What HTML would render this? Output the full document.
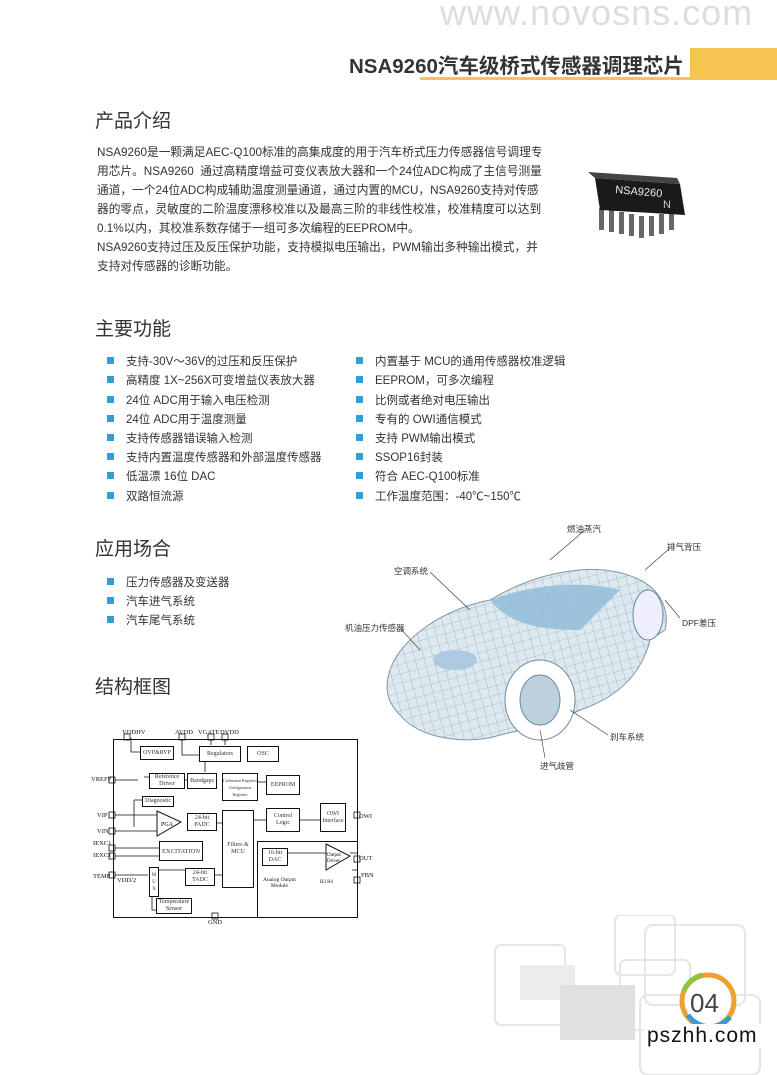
<!DOCTYPE html>
<html><head><meta charset="utf-8"><style>
body{margin:0;width:777px;height:1075px;background:#fff;position:relative;overflow:hidden;font-family:"Liberation Sans","Noto Sans CJK SC",sans-serif;color:#333}
.a{position:absolute;white-space:nowrap}
h2{position:absolute;margin:0;font-weight:normal;font-size:19px;color:#333;left:95px}
.p{font-size:11.7px;line-height:19px;left:97px;color:#333}
.li{position:absolute;font-size:11.5px;color:#333}
.li:before{content:"";position:absolute;left:-19px;top:4px;width:7px;height:7px;background:#2f9fd8}
.d{font-family:"Liberation Serif",serif;font-size:6.5px;position:absolute;white-space:nowrap;color:#111}
.b{position:absolute;border:1px solid #111;background:#fff;font-family:"Liberation Serif",serif;font-size:6px;text-align:center;display:flex;align-items:center;justify-content:center;line-height:7px}
.lbl{font-size:8.5px;color:#333;position:absolute}
</style></head><body>
<div class="a" style="left:440px;top:-8px;font-size:36px;color:#ddd;letter-spacing:1px">www.novosns.com</div>
<div class="a" style="left:349px;top:49px;font-size:20.5px;font-weight:bold;color:#333">NSA9260汽车级桥式传感器调理芯片</div>
<div class="a" style="left:690px;top:48px;width:87px;height:30px;background:#f5c451"></div>
<div class="a" style="left:420px;top:77px;width:357px;height:3px;background:#f5c451"></div>

<h2 style="top:106px">产品介绍</h2>
<div class="a p" style="top:143px">NSA9260是一颗满足AEC-Q100标准的高集成度的用于汽车桥式压力传感器信号调理专<br>用芯片。NSA9260&nbsp;&nbsp;通过高精度增益可变仪表放大器和一个24位ADC构成了主信号测量<br>通道，一个24位ADC构成辅助温度测量通道，通过内置的MCU，NSA9260支持对传感<br>器的零点，灵敏度的二阶温度漂移校准以及最高三阶的非线性校准，校准精度可以达到<br>0.1%以内，其校准系数存储于一组可多次编程的EEPROM中。<br>NSA9260支持过压及反压保护功能，支持模拟电压输出，PWM输出多种输出模式，并<br>支持对传感器的诊断功能。</div>
<svg class="a" style="left:585px;top:160px" width="110" height="80">
<g fill="#666"><rect x="14" y="48" width="5" height="22"/><rect x="24" y="50" width="5" height="22"/><rect x="34" y="52" width="5" height="22"/><rect x="44" y="54" width="5" height="22"/><rect x="54" y="56" width="5" height="22"/><rect x="64" y="56" width="5" height="20"/><rect x="74" y="54" width="5" height="20"/><rect x="84" y="50" width="5" height="20"/></g>
<polygon points="10,18 95,24 100,55 15,50" fill="#1a1a1a"/><polygon points="3,12 92,18 95,24 10,18" fill="#444"/>
<text x="30" y="33" fill="#eee" font-size="11" font-family="Liberation Sans" transform="rotate(5 30 33)">NSA9260</text>
<text x="78" y="48" fill="#ccc" font-size="11" font-family="Liberation Sans">N</text></svg>

<h2 style="top:314px">主要功能</h2>
<div class="li" style="left:126px;top:353px">支持-30V～36V的过压和反压保护</div>
<div class="li" style="left:126px;top:372px">高精度 1X~256X可变增益仪表放大器</div>
<div class="li" style="left:126px;top:392px">24位 ADC用于输入电压检测</div>
<div class="li" style="left:126px;top:411px">24位 ADC用于温度测量</div>
<div class="li" style="left:126px;top:430px">支持传感器错误输入检测</div>
<div class="li" style="left:126px;top:449px">支持内置温度传感器和外部温度传感器</div>
<div class="li" style="left:126px;top:468px">低温漂 16位 DAC</div>
<div class="li" style="left:126px;top:488px">双路恒流源</div>
<div class="li" style="left:375px;top:353px">内置基于 MCU的通用传感器校准逻辑</div>
<div class="li" style="left:375px;top:372px">EEPROM，可多次编程</div>
<div class="li" style="left:375px;top:392px">比例或者绝对电压输出</div>
<div class="li" style="left:375px;top:411px">专有的 OWI通信模式</div>
<div class="li" style="left:375px;top:430px">支持 PWM输出模式</div>
<div class="li" style="left:375px;top:449px">SSOP16封装</div>
<div class="li" style="left:375px;top:468px">符合 AEC-Q100标准</div>
<div class="li" style="left:375px;top:488px">工作温度范围：-40℃~150℃</div>

<h2 style="top:534px">应用场合</h2>
<div class="li" style="left:126px;top:574px">压力传感器及变送器</div>
<div class="li" style="left:126px;top:593px">汽车进气系统</div>
<div class="li" style="left:126px;top:612px">汽车尾气系统</div>

<svg class="a" style="left:380px;top:530px" width="300" height="240">
<defs><pattern id="g" width="9" height="9" patternUnits="userSpaceOnUse" patternTransform="rotate(-15)"><path d="M0,0 H9 M0,0 V9" stroke="#7f9db3" stroke-width=".6" fill="none"/></pattern></defs>
<path d="M10,140 C20,110 60,80 110,70 C160,40 220,30 260,50 C280,60 290,80 285,100 L270,110 C260,150 230,170 200,180 C170,195 140,200 120,205 C90,215 40,210 20,185 C5,170 5,155 10,140Z" fill="#dde8ef" stroke="#7b98ad"/>
<path d="M10,140 C20,110 60,80 110,70 C160,40 220,30 260,50 C280,60 290,80 285,100 L270,110 C260,150 230,170 200,180 C170,195 140,200 120,205 C90,215 40,210 20,185 C5,170 5,155 10,140Z" fill="url(#g)"/>
<path d="M110,70 C150,55 200,50 240,60 L200,100 C160,100 130,95 110,70Z" fill="#8fbad8" opacity=".8"/>
<ellipse cx="160" cy="170" rx="35" ry="40" fill="#fff" stroke="#6b889d"/><ellipse cx="160" cy="170" rx="20" ry="25" fill="#bcd0de" stroke="#6b889d"/>
<ellipse cx="268" cy="85" rx="15" ry="25" fill="#eef" stroke="#6b889d"/>
<ellipse cx="75" cy="130" rx="22" ry="10" fill="#a9c7e0" opacity=".9"/>
<g stroke="#333" stroke-width=".6"><line x1="205" y1="0" x2="170" y2="30"/><line x1="290" y1="18" x2="265" y2="40"/><line x1="50" y1="42" x2="90" y2="80"/><line x1="300" y1="88" x2="285" y2="70"/><line x1="20" y1="98" x2="40" y2="120"/><line x1="228" y1="205" x2="190" y2="180"/><line x1="165" y1="228" x2="160" y2="200"/></g>
</svg>
<div class="lbl" style="left:567px;top:523px">燃油蒸汽</div>
<div class="lbl" style="left:667px;top:541px">排气背压</div>
<div class="lbl" style="left:394px;top:565px">空调系统</div>
<div class="lbl" style="left:682px;top:617px">DPF差压</div>
<div class="lbl" style="left:345px;top:622px">机油压力传感器</div>
<div class="lbl" style="left:610px;top:731px">刹车系统</div>
<div class="lbl" style="left:540px;top:760px">进气歧管</div>

<h2 style="top:672px">结构框图</h2>
<svg class="a" style="left:90px;top:720px" width="290" height="210">
<g stroke="#111" stroke-width=".8" fill="none">
<path d="M41,18 V32 H51 M92,18 V35 H109 M121,18 V25 M135,18 V25 M115,52 V40"/>
<path d="M23,60 H48 M54,57 H60 M93,60 H97"/>
<path d="M23,95 H68 M23,111 H68 M44,80 V107 M44,80 H52"/>
<path d="M101,103 H97 M125,103 H132 M157,100 H176 M210,100 H230"/>
<path d="M69,128 H25 M69,136 H25"/>
<path d="M23,155 H58 M68,150 H95 M123,155 H132 M190,135 H172 M186,133 H236 M260,133 H268 M262,150 H268 M62,162 V190 H66 M161,62 H176"/>
</g>
<g fill="#fff" stroke="#111" stroke-width=".8"><rect x="34" y="14" width="6" height="6"/><rect x="89" y="14" width="6" height="6"/><rect x="118" y="14" width="6" height="6"/><rect x="132" y="14" width="6" height="6"/><rect x="19" y="57" width="6" height="6"/><rect x="19" y="92" width="6" height="6"/><rect x="19" y="108" width="6" height="6"/><rect x="19" y="125" width="6" height="6"/><rect x="19" y="133" width="6" height="6"/><rect x="19" y="152" width="6" height="6"/><rect x="264" y="92" width="6" height="6"/><rect x="264" y="136" width="6" height="6"/><rect x="264" y="157" width="6" height="6"/><rect x="122" y="193" width="6" height="6"/></g>
</svg>
<div class="a" style="left:113px;top:739px;width:243px;height:177px;border:1px solid #111"></div>
<div class="a" style="left:257px;top:841px;width:99px;height:75px;border-left:1px solid #111;border-top:1px solid #111"></div>
<div class="d" style="left:122px;top:729px">VDDHV</div><div class="d" style="left:175px;top:729px">AVDD</div><div class="d" style="left:198px;top:729px">VGATE</div><div class="d" style="left:220px;top:729px">DVDD</div>
<div class="b" style="left:140px;top:746px;width:32px;height:12px">OVP&amp;RVP</div>
<div class="b" style="left:199px;top:746px;width:40px;height:14px">Regulators</div>
<div class="b" style="left:247px;top:746px;width:30px;height:14px">OSC</div>
<div class="d" style="left:91px;top:776px">VREFP</div>
<div class="b" style="left:149px;top:773px;width:34px;height:14px">Reference Driver</div>
<div class="b" style="left:187px;top:773px;width:28px;height:14px">Bandgaps</div>
<div class="b" style="left:222px;top:773px;width:34px;height:26px;font-size:4px">Calibration Registers<br>Configuration Registers</div>
<div class="b" style="left:266px;top:775px;width:32px;height:18px">EEPROM</div>
<div class="b" style="left:142px;top:796px;width:30px;height:9px">Diagnostic</div>
<div class="d" style="left:97px;top:812px">VIP</div><div class="d" style="left:97px;top:828px">VIN</div>
<div class="d" style="left:93px;top:840px">IEXC1</div><div class="d" style="left:93px;top:852px">IEXC1</div><div class="d" style="left:93px;top:873px">TEMP</div>
<svg class="a" style="left:155px;top:810px" width="40" height="30"><polygon points="2,1 26,12 2,26" fill="#fff" stroke="#111"/><text x="6" y="16" font-size="6" font-family="Liberation Serif">PGA</text></svg>
<div class="b" style="left:187px;top:813px;width:28px;height:16px">24-bit PADC</div>
<div class="b" style="left:222px;top:810px;width:30px;height:76px">Filters &amp;<br>MCU</div>
<div class="b" style="left:266px;top:808px;width:32px;height:22px">Control Logic</div>
<div class="b" style="left:320px;top:803px;width:24px;height:27px">OWI Interface</div>
<div class="d" style="left:359px;top:813px">OWI</div>
<div class="b" style="left:159px;top:841px;width:42px;height:18px;font-size:6.5px">EXCITATION</div>
<div class="b" style="left:262px;top:848px;width:24px;height:16px">16-bit DAC</div>
<svg class="a" style="left:324px;top:842px" width="30" height="30"><polygon points="2,2 26,14 2,28" fill="#fff" stroke="#111"/><text x="3" y="14" font-size="5" font-family="Liberation Serif">Output</text><text x="3" y="20" font-size="5" font-family="Liberation Serif">Driver</text></svg>
<div class="d" style="left:359px;top:855px">OUT</div><div class="d" style="left:361px;top:872px">FBN</div>
<div class="d" style="left:117px;top:877px">VDD/2</div>
<div class="b" style="left:149px;top:867px;width:8px;height:28px;font-size:5px">M U X</div>
<div class="b" style="left:185px;top:868px;width:28px;height:16px">24-bit TADC</div>
<div class="d" style="left:263px;top:877px;font-size:5.5px;text-align:center">Analog Output<br>Module</div>
<div class="d" style="left:320px;top:880px;font-size:5px">R3 R4</div>
<div class="b" style="left:156px;top:898px;width:34px;height:14px">Temperature Sensor</div>
<div class="d" style="left:208px;top:919px">GND</div>

<svg class="a" style="left:490px;top:915px" width="287" height="160">
<g fill="none" stroke="#e5e5e5" stroke-width="2"><rect x="5" y="30" width="70" height="80" rx="6"/><rect x="125" y="0" width="60" height="60" rx="6"/><rect x="155" y="10" width="100" height="80" rx="8"/><rect x="130" y="45" width="70" height="70" rx="6"/><rect x="150" y="80" width="120" height="80" rx="8"/></g>
<rect x="30" y="50" width="55" height="35" fill="#ececec"/><rect x="70" y="70" width="75" height="55" fill="#e0e0e0"/>
<circle cx="218" cy="86" r="26" fill="#fff" stroke="#f0a030" stroke-width="5"/>
<path d="M198,100 A26,26 0 0 0 240,102" fill="none" stroke="#3a9ad9" stroke-width="5"/>
<path d="M194,76 A26,26 0 0 1 212,60" fill="none" stroke="#8cc63f" stroke-width="5"/>
<text x="200" y="97" font-size="26" fill="#444" font-family="Liberation Sans">04</text>
</svg>
<div class="a" style="left:644px;top:1024px;font-size:21px;color:#111;background:#fff;padding:0 3px;letter-spacing:1px">pszhh.com</div>
</body></html>
